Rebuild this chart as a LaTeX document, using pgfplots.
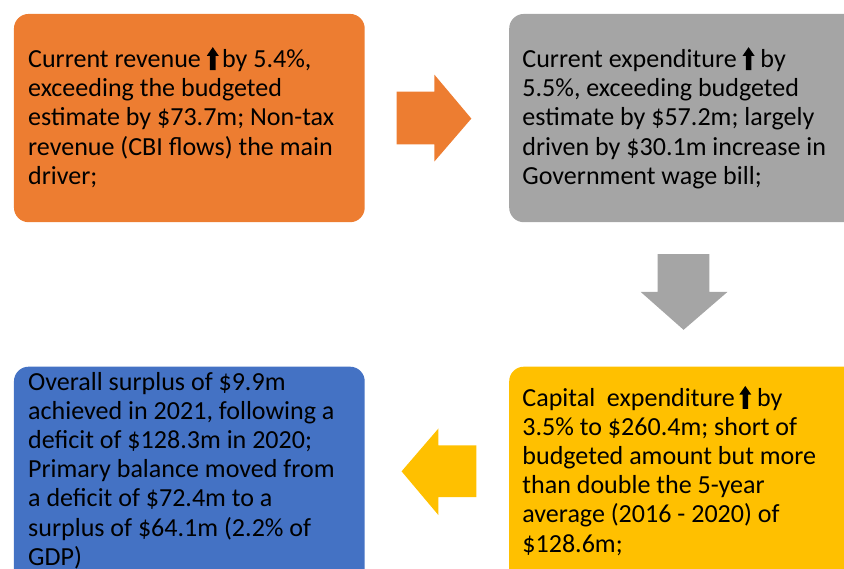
\documentclass[border=0pt]{standalone}
\usepackage{pgfplots}
\pgfplotsset{compat=1.18}
\usepackage{fontspec}
\setmainfont{Carlito}
\definecolor{boxorange}{HTML}{ED7D31}
\definecolor{boxgray}{HTML}{A5A5A5}
\definecolor{boxblue}{HTML}{4472C4}
\definecolor{boxyellow}{HTML}{FFC000}
\newsavebox\uparr
\newcommand\boxtext[1]{\parbox[t]{320pt}{\fontsize{19.6pt}{21.9pt}\selectfont\raggedright #1}}
\begin{document}
\sbox\uparr{\tikz[baseline=0pt]\fill[black] (-2.1pt,-1.8pt) -- (2.1pt,-1.8pt) -- (2.1pt,9pt) -- (4.5pt,9pt) -- (0,15.5pt) -- (-4.5pt,9pt) -- (-2.1pt,9pt) -- cycle;}
\begin{tikzpicture}
\begin{axis}[
    width=633pt, height=428.25pt,
    scale only axis,
    xmin=0, xmax=844, ymin=0, ymax=571,
    y dir=reverse,
    hide axis,
    xtick=\empty, ytick=\empty,
    ]
% boxes
\fill[boxorange, rounded corners=11pt] (axis cs:11,14) rectangle (axis cs:363,223);
\fill[boxgray, rounded corners=11pt] (axis cs:508,14) rectangle (axis cs:880,223);
\fill[boxblue, rounded corners=11pt] (axis cs:11,368) rectangle (axis cs:363,610);
\fill[boxyellow, rounded corners=11pt] (axis cs:508,368) rectangle (axis cs:880,610);
% arrows
\fill[boxorange] (axis cs:395,92) -- (axis cs:433,92) -- (axis cs:433,75) -- (axis cs:470,119)
    -- (axis cs:433,162) -- (axis cs:433,145) -- (axis cs:395,145) -- cycle;
\fill[boxgray] (axis cs:657,255) -- (axis cs:709,255) -- (axis cs:709,293) -- (axis cs:727,293)
    -- (axis cs:683,331) -- (axis cs:640,293) -- (axis cs:657,293) -- cycle;
\fill[boxyellow] (axis cs:475,447) -- (axis cs:437,447) -- (axis cs:437,430) -- (axis cs:400,473)
    -- (axis cs:437,517) -- (axis cs:437,499) -- (axis cs:475,499) -- cycle;
% texts
\node[anchor=base west, inner sep=0pt] at (axis cs:25,68) {\boxtext{%
  Current revenue \usebox\uparr\hspace{2.5pt}by 5.4\%,\\
  exceeding the budgeted\\
  estimate by \$73.7m; Non-tax\\
  revenue (CBI flows) the main\\
  driver;}};
\node[anchor=base west, inner sep=0pt] at (axis cs:521,68) {\boxtext{%
  Current expenditure \usebox\uparr\ by\\
  5.5\%, exceeding budgeted\\
  estimate by \$57.2m; largely\\
  driven by \$30.1m increase in\\
  Government wage bill;}};
\node[anchor=base west, inner sep=0pt] at (axis cs:25,392) {\boxtext{%
  Overall surplus of \$9.9m\\
  achieved in 2021, following a\\
  deficit of \$128.3m in 2020;\\
  Primary balance moved from\\
  a deficit of \$72.4m to a\\
  surplus of \$64.1m (2.2\% of\\
  GDP)}};
\node[anchor=base west, inner sep=0pt] at (axis cs:521,408) {\boxtext{%
  Capital~ expenditure\,\usebox\uparr\ by\\
  3.5\% to \$260.4m; short of\\
  budgeted amount but more\\
  than double the 5-year\\
  average (2016 - 2020) of\\
  \$128.6m;}};
\end{axis}
\pgfresetboundingbox
\path (0,0) rectangle (633pt,428.25pt);
\end{tikzpicture}
\end{document}
